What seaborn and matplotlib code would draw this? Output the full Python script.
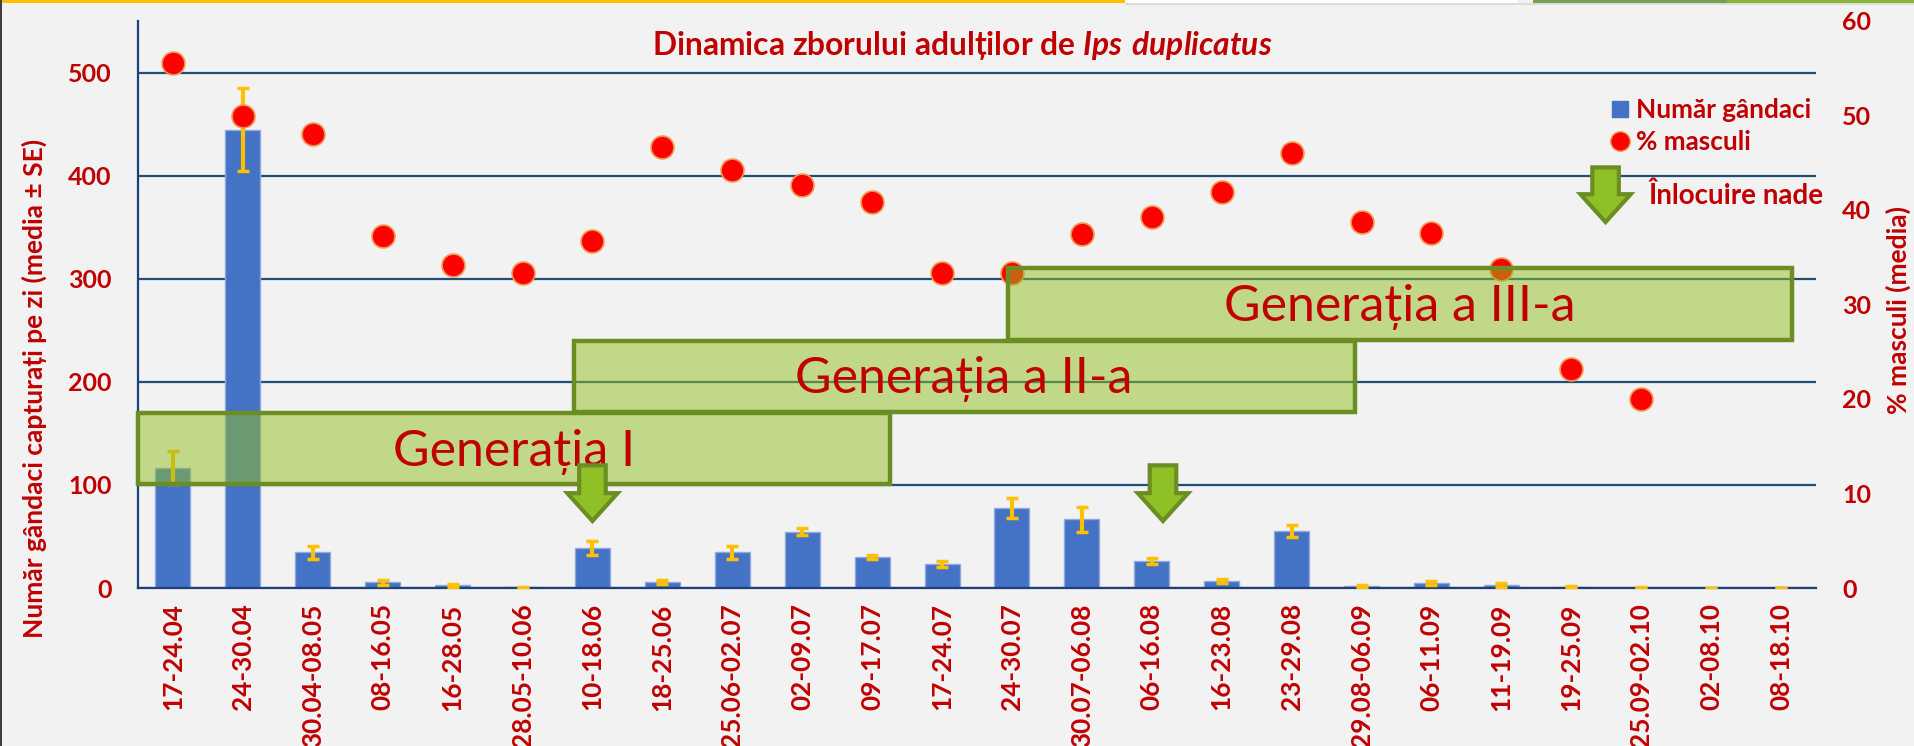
import numpy as np
import pandas as pd
import matplotlib.pyplot as plt
from matplotlib.lines import Line2D
from matplotlib.patches import Polygon, Rectangle
import seaborn as sns

perioade = ["17-24.04", "24-30.04", "30.04-08.05", "08-16.05", "16-28.05", "28.05-10.06",
            "10-18.06", "18-25.06", "25.06-02.07", "02-09.07", "09-17.07", "17-24.07",
            "24-30.07", "30.07-06.08", "06-16.08", "16-23.08", "23-29.08", "29.08-06.09",
            "06-11.09", "11-19.09", "19-25.09", "25.09-02.10", "02-08.10", "08-18.10"]
gandaci = [116.6, 444.7, 34.6, 5.5, 2.8, 0.5, 38.7, 5.5, 34.6, 54.8, 30, 23,
           77.4, 66.8, 26.3, 6.9, 55.3, 1.5, 5, 3.2, 0.8, 0.3, 0.1, 0.1]
se = [16, 40, 6, 2.2, 1.5, 0.3, 6.5, 2, 6.2, 3.5, 2, 3,
      9.7, 12, 3.2, 2, 6, 1.5, 2, 2, 1, 0.4, 0.3, 0.3]
masculi = [55.6, 49.95, 48, 37.3, 34.2, 33.35, 36.7, 46.7, 44.2, 42.65, 40.8, 33.35,
           33.35, 37.5, 39.3, 41.95, 46, 38.7, 37.6, 33.75, 23.2, 20, np.nan, np.nan]

# generatii: (x stanga, x dreapta, y jos, y sus, text)
generatii = [(-0.5, 10.26, 100.5, 169.6, "Generația I"),
             (5.73, 16.9, 170.5, 240, "Generația a II-a"),
             (11.95, 23.15, 240.5, 310, "Generația a III-a")]
# sageti: (x centru, y varf, y sus)
sageti = [(6.0, 65, 119), (14.16, 65, 119), (20.49, 355, 408)]

ROSU = "#c00000"
df = pd.DataFrame({"perioada": perioade, "gandaci": gandaci, "masculi": masculi})

sns.set_style("white")
plt.rcParams['font.family'] = ['Lato', 'DejaVu Sans']
plt.rcParams['mathtext.fontset'] = 'custom'
plt.rcParams['mathtext.bfit'] = 'Lato:italic:bold'
fig = plt.figure(figsize=(19.15, 7.46), dpi=100, facecolor="#f2f2f2")
ax = fig.add_axes([138 / 1915, 1 - 588 / 746, 1678 / 1915, 567 / 746], facecolor="#f2f2f2")

# bare + erori
sns.barplot(data=df, x="perioada", y="gandaci", color="#4472c4", saturation=1, width=0.5,
            edgecolor="#8fa9dd", linewidth=1, ax=ax, zorder=2)
ax.errorbar(range(len(perioade)), gandaci, yerr=se, fmt="none", ecolor="#ffc000", elinewidth=3,
            capsize=4.5, capthick=2.5, zorder=3)
ax.set_ylim(0, 550)
ax.set_yticks([0, 100, 200, 300, 400, 500])
ax.grid(axis="y", color="#1f4e79", lw=1.6, zorder=1)
ax.set_axisbelow(True)
for s in ["top", "right"]:
    ax.spines[s].set_visible(False)
for s in ["left", "bottom"]:
    ax.spines[s].set_color("#1f3f77")
    ax.spines[s].set_linewidth(1.6)
ax.set_xlabel("")
ax.set_ylabel("")

# % masculi pe axa 2
ax2 = ax.twinx()
sns.scatterplot(x=np.arange(len(perioade)), y=masculi, color="#ff0000", edgecolor="#f4954a",
                s=270, linewidth=1.2, ax=ax2, zorder=4)
ax2.set_ylim(0, 60)
ax2.set_yticks([0, 10, 20, 30, 40, 50, 60])
ax2.tick_params(axis="y", length=0, pad=19, labelsize=18, labelcolor=ROSU)
for s in ax2.spines.values():
    s.set_visible(False)

# etichetele x dupa twinx, altfel se pierde bold
ax.set_xlim(-0.5, 23.5)
ax.set_xticks(range(len(perioade)))
ax.set_xticklabels(perioade, rotation=90, fontweight="bold", fontsize=18.8, color=ROSU)
ax.tick_params(axis="x", length=0, pad=11)
ax.tick_params(axis="y", length=0, pad=19, labelsize=18, labelcolor=ROSU)
for t in ax.get_yticklabels() + ax2.get_yticklabels():
    t.set_fontweight("bold")

for x0, x1, y0, y1, txt in generatii:
    ax2.add_patch(Rectangle((x0, y0), x1 - x0, y1 - y0, transform=ax.transData, zorder=5,
                            facecolor=(146 / 255, 192 / 255, 34 / 255, 0.5),
                            edgecolor="#6b8e23", lw=3.2, clip_on=False))
    ax2.text((x0 + x1) / 2, (y0 + y1) / 2 - 3, txt, transform=ax.transData, color=ROSU,
             fontsize=36, ha="center", va="center", zorder=6)

for xc, varf, sus in sageti:
    umar = varf + 27
    pts = [(xc - 0.19, sus), (xc + 0.19, sus), (xc + 0.19, umar), (xc + 0.36, umar), (xc, varf),
           (xc - 0.36, umar), (xc - 0.19, umar)]
    ax2.add_patch(Polygon(pts, closed=True, transform=ax.transData, facecolor="#8fc026",
                          edgecolor="#6b8e23", lw=3, zorder=7))

fig.text(962 / 1915, 1 - 46 / 746, "Dinamica zborului adulților de $\\mathbfit{Ips\\ duplicatus}$",
         color=ROSU, fontsize=22.9, fontweight="bold", ha="center", va="center")
fig.text(34 / 1915, 1 - 388 / 746, "Număr gândaci capturați pe zi (media ± SE)", color=ROSU,
         fontsize=19, fontweight="bold", rotation=90, ha="center", va="center")
fig.text(1898 / 1915, 1 - 310 / 746, "% masculi (media)", color=ROSU, fontsize=19,
         fontweight="bold", rotation=90, ha="center", va="center")
fig.text(1649 / 1915, 1 - 196 / 746, "Înlocuire nade", color=ROSU, fontsize=20, fontweight="bold",
         ha="left", va="center")

handles = [Line2D([], [], marker="s", ls="", markerfacecolor="#4472c4", markeredgecolor="#4472c4",
                  markersize=11, label="Număr gândaci"),
           Line2D([], [], marker="o", ls="", markerfacecolor="#ff0000", markeredgecolor="#f4954a",
                  markersize=14, label="% masculi")]
ax2.legend(handles=handles, loc="upper left", bbox_to_anchor=(1594 / 1915, 1 - 85 / 746),
           bbox_transform=fig.transFigure, frameon=False, handlelength=1, handletextpad=0.1,
           labelspacing=0.3, borderpad=0, prop={"size": 18.8, "weight": "bold"}, labelcolor=ROSU)

# banda de sus din slide
fig.add_artist(Rectangle((0, 1 - 3 / 746), 1125 / 1915, 3 / 746, transform=fig.transFigure,
                         color="#ffc000", lw=0))
fig.add_artist(Rectangle((1125 / 1915, 1 - 3 / 746), 392 / 1915, 3 / 746,
                         transform=fig.transFigure, color="#ffffff", lw=0))
fig.add_artist(Rectangle((1125 / 1915, 1 - 5 / 746), 790 / 1915, 2 / 746,
                         transform=fig.transFigure, color="#dcdcdc", lw=0))
fig.add_artist(Rectangle((1533 / 1915, 1 - 3 / 746), 194 / 1915, 3 / 746,
                         transform=fig.transFigure, color="#70a050", lw=0))
fig.add_artist(Rectangle((1727 / 1915, 1 - 3 / 746), 188 / 1915, 3 / 746,
                         transform=fig.transFigure, color="#86b535", lw=0))
fig.add_artist(Rectangle((0, 0), 2 / 1915, 1, transform=fig.transFigure, color="#404040", lw=0))

fig.savefig("out.png", dpi=100, facecolor=fig.get_facecolor())
